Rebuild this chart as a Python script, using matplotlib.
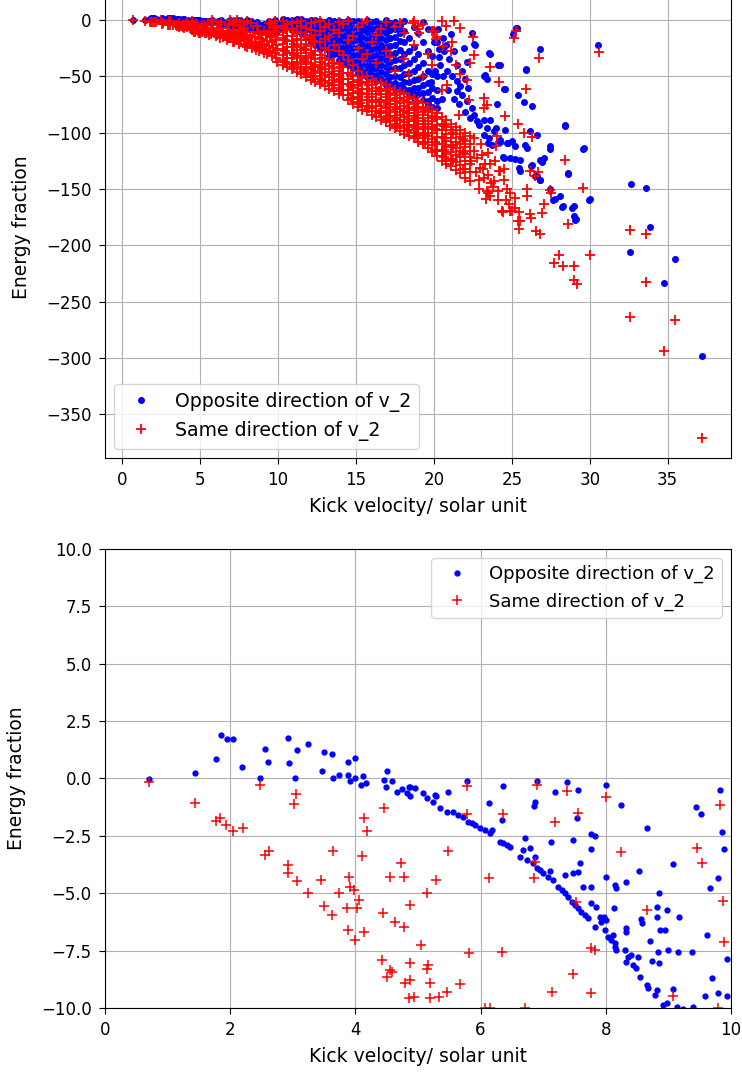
import numpy as np
import matplotlib
matplotlib.use("Agg")
import matplotlib.pyplot as plt

LABEL_OPP = "Opposite direction of v_2"
LABEL_SAME = "Same direction of v_2"
XLABEL = "Kick velocity/ solar unit"
YLABEL = "Energy fraction"

# ---------------- blue points: opposite direction ----------------
opp_near_pts = [
    (0.70, -0.03), (1.44, 0.25), (1.78, 0.84), (1.85, 1.90), (1.95, 1.72), (2.05, 1.72),
    (2.19, 0.49), (2.47, 0.04), (2.55, 1.30), (2.61, 0.73), (2.92, 1.78), (2.94, 0.66),
    (3.04, 0.02), (3.07, 1.24), (3.24, 1.49), (3.46, 0.31), (3.50, 1.14), (3.63, 1.08),
    (3.65, 0.01), (3.73, 0.14), (3.88, 0.72), (3.99, 0.91), (3.88, 0.14), (3.91, -0.10),
    (3.99, 0.00), (4.12, 0.10), (4.17, -0.20), (4.09, -0.30), (4.51, 0.33), (4.46, -0.05),
    (4.59, -0.10), (4.49, -0.38), (4.67, -0.57), (4.74, -0.45), (4.82, -0.65), (4.87, -0.38),
    (4.95, -0.40), (4.87, -0.76), (4.85, -0.36),
    (5.08, -0.63), (5.14, -0.85), (5.24, -1.02), (5.27, -0.72), (5.48, -0.57), (5.29, -0.76),
    (5.35, -1.30), (5.46, -1.45), (5.56, -1.45), (5.64, -1.59), (5.72, -1.66), (5.80, -1.88),
    (5.86, -1.95), (5.91, -2.03), (5.99, -2.17), (6.07, -2.24), (6.15, -2.39), (6.18, -2.24),
    (6.14, -1.05), (6.35, -0.33), (6.34, -1.81), (6.31, -2.75), (6.36, -2.83), (6.42, -2.90),
    (6.47, -2.97), (6.71, -2.61), (6.79, -3.04), (6.68, -3.12), (6.63, -3.41), (6.74, -3.55),
    (6.84, -3.70), (6.90, -3.91), (6.95, -3.99), (7.00, -4.13), (7.08, -4.28), (7.16, -4.42),
    (6.87, -3.41), (6.85, -1.20), (6.87, -1.01), (6.90, -0.12), (7.13, -2.75), (7.11, -4.02),
    (7.19, -0.57), (5.78, -0.09),
    (7.24, -4.71), (7.30, -4.86), (7.35, -5.00), (7.40, -5.15), (7.46, -5.37), (7.51, -5.51),
    (7.56, -5.66), (7.61, -5.80), (7.67, -5.95), (7.72, -6.09), (7.35, -4.20), (7.48, -4.13),
    (7.56, -4.06), (7.59, -3.67), (7.38, -0.15), (7.55, -0.50), (7.54, -1.74), (7.47, -2.68),
    (7.63, -4.74), (7.77, -4.71), (7.76, -3.09), (7.77, -2.42), (7.83, -2.51), (7.76, -5.44),
    (7.85, -5.61), (7.91, -6.02), (7.97, -6.02), (7.83, -6.46), (7.93, -6.24), (8.01, -6.17),
    (7.99, -6.60), (8.04, -6.89), (8.09, -7.04), (8.15, -7.18), (8.17, -7.47), (8.12, -6.82),
    (8.15, -7.33),
    (8.31, -7.47), (8.36, -7.77), (8.41, -7.69), (8.33, -7.98), (8.44, -8.13), (8.49, -8.27),
    (8.52, -7.77), (8.55, -8.64), (8.65, -9.00), (8.68, -9.14), (8.81, -9.22), (8.79, -9.43),
    (8.92, -9.87), (8.97, -9.80), (9.13, -9.98), (9.24, -10.05), (9.40, -9.94), (9.08, -9.19),
    (8.01, -0.28), (8.25, -1.15), (8.65, -2.17), (8.01, -4.31), (8.15, -4.64), (8.17, -4.78),
    (8.33, -4.50), (8.13, -5.66), (8.53, -4.02), (8.85, -4.97), (8.57, -6.14), (8.58, -6.28),
    (8.81, -5.61), (8.82, -6.02), (8.97, -5.73), (9.17, -6.02), (8.33, -6.53), (8.32, -6.68),
    (8.86, -6.60), (8.95, -6.60), (8.71, -7.08), (8.83, -7.55), (9.00, -7.47), (9.16, -7.55),
    (9.37, -7.55), (8.74, -7.95), (8.85, -8.03), (9.07, -3.73), (9.44, -1.26), (9.52, -1.56),
    (9.82, -0.50), (9.86, -2.32), (9.88, -3.09), (9.80, -4.32), (9.66, -4.78), (9.62, -6.82),
    (9.93, -7.88), (9.69, -8.71), (9.80, -9.36), (9.93, -9.48), (9.58, -9.48),
]

opp_far_pts = [
    (9.30, -10.4), (9.50, -10.6), (9.70, -11.2), (9.90, -11.8),
    (20.24, -8.3), (19.96, -9.2), (20.56, -15.8), (21.10, -12.8), (20.34, -26.2), (20.67, -27.7),
    (19.80, -55.0), (20.00, -20.0), (20.10, -45.0), (20.30, -33.0), (20.50, -70.0), (20.60, -50.0),
    (20.80, -22.0), (20.90, -62.0), (21.00, -35.0), (21.30, -28.0), (21.30, -70.0), (21.50, -40.0),
    (21.60, -75.0), (21.80, -45.0), (21.90, -25.0), (22.00, -52.0), (22.00, -82.0), (22.20, -60.0),
    (22.45, -11.8), (22.66, -22.1), (23.63, -30.4), (24.22, -39.8), (22.13, -37.5), (25.93, -44.6),
    (26.79, -25.7), (25.33, -7.4), (25.08, -12.7), (25.28, -6.8), (23.30, -48.7), (23.41, -52.2),
    (24.54, -61.0), (25.40, -66.4), (25.76, -72.9), (26.30, -76.7), (24.05, -74.6), (28.43, -93.5),
    (29.65, -113.6), (26.19, -98.2), (26.62, -102.4), (25.00, -107.7), (25.23, -112.1), (25.87, -110.6),
    (25.98, -113.6), (27.47, -112.1), (27.47, -114.6), (27.04, -122.4), (26.94, -126.0), (24.48, -122.4),
    (24.91, -122.4), (25.23, -123.0), (25.55, -123.9), (25.44, -131.3), (25.51, -134.2), (26.30, -128.9),
    (26.62, -138.6), (26.83, -141.6), (27.47, -149.6), (27.79, -159.3), (28.07, -156.3), (28.28, -165.2),
    (28.97, -165.2), (28.97, -174.0), (29.14, -177.0), (28.60, -135.7), (30.00, -158.7), (30.54, -22.6),
    (25.88, -44.0), (24.49, -61.3), (23.52, -29.8), (24.14, -39.6), (23.24, -49.4), (22.60, -21.1),
    (20.42, -39.8), (20.85, -45.7), (21.17, -50.2), (21.49, -54.6), (21.70, -59.0), (21.49, -63.4),
    (21.81, -66.4), (22.13, -72.3), (22.45, -78.2), (22.56, -84.1), (22.34, -87.0), (22.77, -90.0),
    (22.88, -93.0), (23.20, -88.5), (23.41, -95.9), (23.63, -88.5), (23.84, -98.8), (23.52, -104.7),
    (23.20, -101.8), (23.73, -110.6), (24.16, -107.7), (24.27, -106.2), (24.70, -109.1),
    (23.45, -109.5), (24.42, -122.0), (24.53, -97.6), (23.99, -96.1), (24.21, -108.0), (24.74, -109.5),
    (26.24, -130.0), (26.78, -124.0), (26.46, -138.7), (26.78, -142.3), (28.61, -136.3), (27.64, -160.0),
    (28.24, -166.0), (28.88, -166.7), (29.03, -177.4), (29.96, -159.5), (28.39, -94.0), (29.57, -114.6),
    (32.62, -145.2), (33.61, -149.0), (33.86, -183.9), (32.60, -205.8), (35.47, -211.8), (34.79, -233.0),
    (37.23, -298.4),
]

# dense blue cloud of the upper panel, read column by column (two staggered sets)
opp_col_x = [10.3, 10.9, 11.5, 12.1, 12.7, 13.3, 13.9, 14.5, 15.1, 15.7, 16.3, 16.9,
             17.5, 18.1, 18.7, 19.3, 19.9,
             10.6, 11.2, 11.8, 12.4, 13.0, 13.6, 14.2, 14.8, 15.4, 16.0, 16.6, 17.2,
             17.8, 18.4, 19.0, 19.6, 20.2]
opp_col_y = [
    [1, -3, -7],
    [0, -4, -9],
    [1, -3, -7, -12],
    [0, -4, -9, -14, -19],
    [-1, -5, -10, -16, -22, -26],
    [0, -5, -10, -16, -22, -28, -32],
    [-1, -6, -12, -18, -24, -30, -36],
    [0, -4, -10, -16, -22, -28, -34, -40],
    [-1, -6, -12, -18, -24, -30, -36, -42, -47],
    [0, -5, -11, -17, -23, -29, -35, -41, -46, -51],
    [-1, -7, -13, -19, -25, -31, -37, -43, -49, -54],
    [0, -6, -12, -18, -24, -30, -36, -42, -48, -54, -58],
    [-2, -8, -15, -22, -29, -36, -43, -50, -56, -61],
    [-1, -10, -20, -30, -40, -48, -55, -61],
    [-6, -24, -35, -45, -53, -60, -66, -69],
    [-2, -20, -38, -50, -58, -65, -71],
    [-32, -48, -60, -69, -77],
    [0, -5],
    [1, -2, -6, -10],
    [-1, -5, -9, -15],
    [0, -3, -7, -12, -17, -22],
    [-2, -7, -13, -19, -24],
    [-1, -3, -8, -14, -20, -26, -30],
    [-2, -7, -13, -19, -25, -31, -37],
    [-1, -7, -13, -19, -25, -31, -37, -43],
    [-3, -9, -15, -21, -27, -33, -39, -45, -49],
    [-2, -8, -14, -20, -26, -32, -38, -44, -49],
    [-4, -10, -16, -22, -28, -34, -40, -46, -52],
    [-3, -9, -16, -23, -30, -37, -44, -51, -57],
    [-5, -12, -19, -27, -35, -43, -51, -58, -62],
    [-16, -28, -38, -47, -55, -62, -66],
    [-12, -30, -42, -52, -60, -66],
    [-8, -28, -45, -56, -64, -72, -75],
    [-20, -50, -62, -72, -78],
]

# ---------------- red points: same direction ----------------
same_near_pts = [
    (0.70, -0.14), (1.44, -1.05), (1.77, -1.84), (1.84, -1.73), (1.94, -2.03), (2.05, -2.27),
    (2.20, -2.17), (2.47, -0.28), (3.05, -0.68), (3.02, -1.11), (2.55, -3.33), (2.62, -3.15),
    (2.93, -3.77), (2.92, -4.10), (3.07, -4.47), (3.25, -4.97), (3.45, -4.42), (3.65, -3.15),
    (3.73, -5.00), (3.50, -5.56), (3.63, -5.95), (3.89, -4.28), (3.91, -4.71), (3.97, -4.86),
    (4.06, -5.29), (3.87, -5.66), (4.02, -5.66), (3.88, -6.60), (4.13, -6.68), (4.00, -7.04),
    (4.10, -3.38), (4.13, -1.73), (4.18, -2.27), (4.45, -1.30), (4.44, -5.85), (4.63, -6.24),
    (4.77, -6.46), (4.55, -4.28), (4.73, -3.67), (4.78, -4.28), (4.87, -5.51), (4.42, -7.91),
    (4.55, -8.34), (4.50, -8.64), (4.58, -8.42), (4.87, -8.05), (4.79, -8.92), (4.87, -8.78),
    (4.85, -9.58), (4.93, -9.51), (5.05, -7.26), (5.78, -0.33), (5.78, -1.56), (5.48, -3.15),
    (5.29, -4.42), (5.14, -4.97), (5.16, -8.13), (5.14, -8.31), (5.19, -8.92), (5.67, -8.95),
    (5.46, -9.29), (5.34, -9.53), (5.19, -9.58), (5.82, -7.59), (6.34, -7.55), (6.07, -10.0),
    (6.15, -10.0), (6.71, -10.0), (6.36, -1.56), (6.90, -0.28), (7.38, -0.53), (7.19, -1.88),
    (7.55, -1.49), (6.87, -3.62), (6.85, -4.32), (6.14, -4.32), (7.53, -5.37), (7.77, -7.40),
    (7.83, -7.47), (7.47, -8.52), (7.14, -9.29), (7.76, -9.36), (8.01, -0.79), (8.25, -3.19),
    (8.65, -5.73), (9.08, -9.48), (9.45, -3.04), (9.53, -3.67), (9.82, -1.15), (9.87, -5.32),
    (9.88, -7.14), (9.80, -10.0),
]

same_mid_pts = [
    (4.6, -10.6), (4.9, -11.2), (5.1, -10.4), (5.3, -12.0), (5.5, -10.8), (5.6, -13.2),
    (5.9, -11.5), (6.0, -14.5), (6.2, -12.6), (6.3, -16.2), (6.5, -10.9), (6.6, -13.8),
    (6.7, -17.6), (6.9, -15.4), (7.0, -12.1), (7.1, -19.3), (7.3, -14.2), (7.4, -17.0),
    (7.5, -21.0), (7.6, -11.8), (7.7, -15.6), (7.8, -19.0), (7.9, -22.8), (8.0, -13.3),
    (8.1, -17.4), (8.2, -21.2), (8.3, -25.0), (8.4, -11.0), (8.5, -15.0), (8.6, -19.5),
    (8.7, -23.5), (8.8, -27.4), (8.9, -12.7), (9.0, -17.1), (9.1, -21.6), (9.2, -26.0),
    (9.3, -30.2), (9.4, -11.3), (9.5, -15.4), (9.6, -20.0), (9.7, -24.5), (9.8, -29.0),
    (9.9, -33.5), (9.95, -13.0),
    (4.7, -10.3), (5.0, -11.8), (5.4, -11.2), (5.7, -12.5), (5.8, -10.2), (6.1, -13.0),
    (6.4, -11.0), (6.5, -15.0), (6.8, -12.6), (6.8, -16.5), (7.2, -10.5), (7.2, -16.3),
    (7.2, -20.0), (7.5, -13.2), (7.6, -18.5), (7.9, -10.5), (7.9, -17.0), (8.0, -24.0),
    (8.2, -14.5), (8.3, -19.3), (8.5, -23.0), (8.6, -26.4), (8.7, -10.6), (8.8, -15.8),
    (8.9, -21.0), (9.0, -25.0), (9.1, -29.0), (9.2, -13.8), (9.3, -18.6), (9.4, -23.5),
    (9.5, -27.5), (9.6, -32.0), (9.7, -10.8), (9.8, -17.4), (9.9, -22.0), (9.95, -26.5),
    (9.95, -37.0),
]

same_far_pts = [
    (18.63, -2.4), (18.95, -5.4), (19.06, -11.3), (20.03, -9.8), (20.13, -17.3), (20.56, -23.2),
    (21.27, -1.2), (21.65, -7.0), (21.17, -19.4), (22.50, -14.8), (22.60, -30.7), (23.58, -42.0),
    (24.20, -55.0), (25.93, -61.0), (25.12, -16.3), (25.28, -9.8), (26.77, -33.8), (20.85, -57.5),
    (22.13, -53.1), (22.24, -70.8), (21.60, -84.1), (23.20, -69.3), (23.41, -75.8), (23.20, -78.2),
    (24.55, -85.0), (25.42, -92.0), (25.76, -100.2), (26.27, -103.5), (24.02, -102.8), (28.40, -124.5),
    (29.58, -149.4), (30.60, -28.6), (30.00, -209.0), (32.60, -263.4), (35.47, -265.8), (34.79, -293.3),
    (37.23, -370.9), (33.63, -232.1), (32.60, -186.0), (33.60, -189.5), (28.04, -208.2), (27.70, -215.7),
    (28.30, -218.7), (28.96, -218.7), (28.96, -230.6), (29.15, -234.2), (28.61, -181.5),
    (22.56, -116.5), (22.77, -122.4), (22.98, -131.3), (23.20, -140.1), (23.41, -151.9), (23.63, -156.3),
    (23.84, -143.1), (24.27, -134.2), (24.48, -132.7), (24.70, -150.4), (24.91, -153.4), (24.37, -169.6),
    (25.01, -169.6), (25.23, -166.7), (25.55, -178.5), (25.98, -150.4), (25.98, -156.3), (26.19, -172.6),
    (26.83, -190.3), (27.04, -163.7), (26.94, -171.1), (26.67, -134.8), (26.46, -138.7), (26.14, -133.9),
    (27.42, -151.2), (27.53, -153.6), (26.24, -175.6), (25.49, -170.5), (25.39, -178.0), (24.42, -170.5),
    (24.85, -169.6), (24.10, -151.8), (23.45, -154.0), (23.35, -158.6), (23.67, -145.0), (23.77, -148.2),
    (26.52, -187.0), (24.20, -134.0), (23.13, -132.0), (23.60, -127.4), (25.45, -185.4),
    (22.40, -125.0), (22.70, -135.0), (22.90, -142.0), (23.10, -120.0), (23.30, -128.0), (23.50, -138.0),
    (23.90, -125.0), (24.10, -160.0), (24.50, -142.0), (24.60, -160.0), (24.80, -163.0), (25.20, -158.0),
    (24.00, -112.0), (22.60, -105.0), (23.00, -110.0), (23.50, -118.0), (22.90, -150.0),
]

# dense red band of the upper panel, read column by column (three staggered sets)
same_col_x = [10.3, 10.9, 11.5, 12.1, 12.7, 13.3, 13.9, 14.5, 15.1, 15.7, 16.3,
              16.9, 17.5, 18.1, 18.7, 19.3, 19.9, 20.5, 21.1, 21.7, 22.3,
              10.6, 11.2, 11.8, 12.4, 13.0, 13.6, 14.2, 14.8, 15.4, 16.0,
              16.6, 17.2, 17.8, 18.4, 19.0, 19.6, 20.2, 20.8, 21.4, 22.0,
              10.45, 11.05, 11.65, 12.25, 12.85, 13.45, 14.05, 14.65, 15.25, 15.85,
              16.45, 17.05, 17.65, 18.25, 18.85, 19.45, 20.05, 20.65, 21.25, 21.85]
same_col_y = [
    [-1, -6, -11, -16, -21, -26, -31, -36, -40],
    [-2, -8, -14, -19, -24, -29, -34, -39, -44],
    [-1, -5, -12, -18, -24, -29, -34, -39, -44, -48],
    [-3, -9, -16, -23, -29, -34, -39, -44, -49, -53],
    [-1, -10, -20, -31, -37, -42, -47, -52, -57],
    [-4, -15, -27, -36, -41, -46, -51, -56, -61],
    [-2, -12, -28, -39, -45, -50, -55, -60, -66],
    [-1, -18, -36, -47, -52, -57, -62, -67, -71],
    [-6, -25, -45, -53, -58, -63, -68, -73, -77],
    [-1, -30, -50, -55, -61, -66, -71, -76, -81],
    [-13, -38, -55, -60, -66, -71, -76, -81, -86],
    [-2, -28, -58, -63, -68, -73, -78, -83, -88, -91],
    [-6, -45, -62, -67, -72, -77, -82, -87, -92, -96],
    [-12, -35, -66, -71, -76, -81, -86, -91, -96, -101],
    [-1, -22, -70, -75, -80, -85, -90, -95, -100, -105],
    [-4, -50, -74, -79, -84, -90, -95, -100, -105, -110],
    [-10, -40, -80, -85, -90, -95, -100, -106, -111, -117],
    [-1, -62, -86, -92, -98, -104, -110, -116, -121, -125],
    [-28, -92, -98, -105, -111, -117, -123, -130],
    [-48, -98, -104, -110, -116, -122, -129, -136],
    [-38, -103, -110, -116, -122, -128, -135, -143],
    [-4, -9, -14, -19, -24, -29, -34, -38, -42],
    [-3, -11, -17, -22, -27, -32, -37, -42, -46],
    [-7, -15, -21, -27, -32, -37, -42, -47, -51],
    [-2, -13, -20, -28, -35, -40, -45, -50, -55],
    [-6, -17, -25, -34, -39, -44, -49, -54, -59],
    [-9, -22, -38, -43, -48, -53, -58, -63],
    [-4, -31, -42, -47, -52, -57, -62, -67],
    [-14, -40, -50, -55, -60, -65, -70, -75],
    [-3, -35, -51, -56, -61, -66, -71, -76, -80],
    [-20, -53, -58, -63, -68, -73, -78, -84],
    [-8, -56, -61, -66, -71, -76, -81, -86, -89],
    [-33, -60, -65, -70, -75, -80, -85, -90, -94],
    [-3, -64, -69, -74, -79, -84, -89, -94, -99],
    [-48, -68, -73, -78, -83, -88, -93, -98, -103],
    [-8, -72, -77, -82, -87, -92, -97, -102, -108],
    [-30, -77, -82, -87, -92, -97, -103, -108, -114],
    [-15, -83, -88, -93, -98, -104, -110, -116, -121],
    [-5, -89, -95, -101, -107, -113, -119, -125, -128],
    [-40, -95, -101, -108, -114, -120, -126, -133],
    [-100, -107, -113, -119, -125, -132, -140],
    [-8, -18, -28, -37],
    [-11, -21, -31, -41],
    [-14, -26, -36, -45],
    [-19, -31, -42, -51],
    [-34, -44, -54],
    [-38, -48, -58],
    [-42, -52, -62],
    [-49, -59, -69],
    [-55, -65, -74],
    [-58, -68, -78],
    [-63, -73, -83],
    [-66, -75, -85],
    [-69, -79, -89, -94],
    [-73, -83, -93, -99],
    [-77, -87, -97, -103],
    [-81, -92, -102, -108],
    [-86, -97, -108, -115],
    [-94, -105, -115, -122],
    [-100, -112, -124],
    [-106, -118, -132],
]


def assemble(point_lists, col_x, col_y):
    xs, ys = [], []
    for pts in point_lists:
        xs.extend(p[0] for p in pts)
        ys.extend(p[1] for p in pts)
    xs.extend(np.repeat(col_x, [len(c) for c in col_y]))
    for c in col_y:
        ys.extend(c)
    return np.asarray(xs, float), np.asarray(ys, float)


opp_x, opp_y = assemble([opp_near_pts, opp_far_pts], opp_col_x, opp_col_y)
same_x, same_y = assemble([same_near_pts, same_mid_pts, same_far_pts], same_col_x, same_col_y)

TICK_FS = 12
LABEL_FS = 13.5

fig = plt.figure(figsize=(7.42, 10.74), dpi=100)
ax1 = fig.add_axes([0.1415, 0.5736, 0.8437, 0.4295])
ax2 = fig.add_axes([0.1415, 0.0615, 0.8437, 0.4274])

styles = {ax1: dict(b_ms=8, r_ms=7.5, r_mew=1.3, leg=13.6),
          ax2: dict(b_ms=7, r_ms=6.5, r_mew=1.1, leg=13.0)}

for ax in (ax1, ax2):
    st = styles[ax]
    ax.plot(opp_x, opp_y, 'b.', markersize=st['b_ms'], label=LABEL_OPP)
    ax.plot(same_x, same_y, 'r+', markersize=st['r_ms'], markeredgewidth=st['r_mew'],
            label=LABEL_SAME)
    ax.grid(True)
    ax.set_xlabel(XLABEL, fontsize=LABEL_FS, labelpad=5.5)
    ax.set_ylabel(YLABEL, fontsize=LABEL_FS, labelpad=11)
    ax.tick_params(labelsize=TICK_FS, length=4.5, pad=5)

ax1.set_xlim(-1.1, 39.06)
ax1.set_ylim(-388.6, 20.6)
ax1.set_xticks(np.arange(0, 36, 5))
ax1.set_yticks(np.arange(-350, 1, 50))
ax1.legend(loc='lower left', fontsize=styles[ax1]['leg'])

ax2.set_xlim(0, 10)
ax2.set_ylim(-10, 10)
ax2.set_xticks(np.arange(0, 11, 2))
ax2.set_yticks(np.arange(-10, 10.1, 2.5))
ax2.legend(loc='upper right', fontsize=styles[ax2]['leg'])

fig.savefig("out.png", dpi=100)
